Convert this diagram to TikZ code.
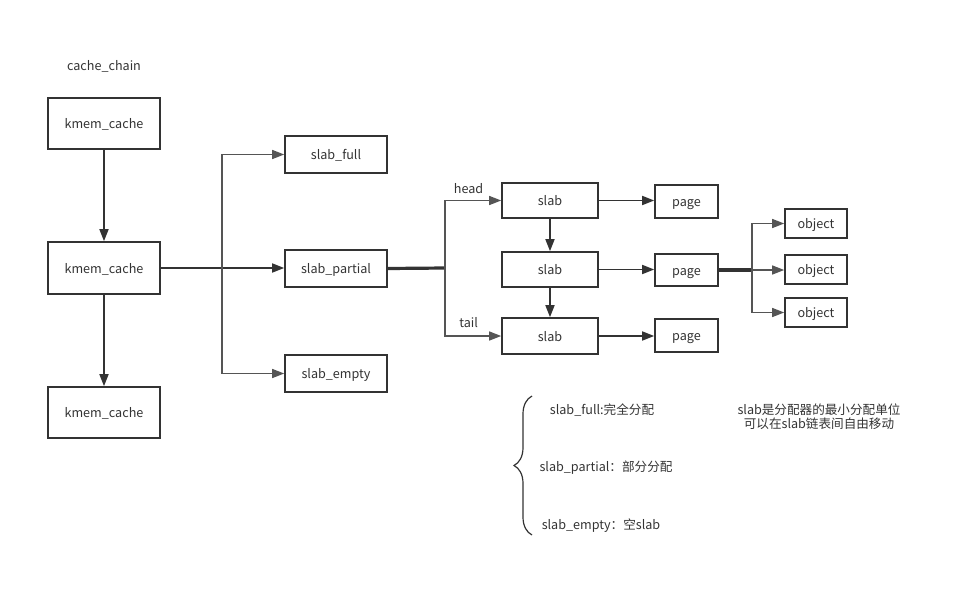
\documentclass[tikz,border=0pt]{standalone}
\usepackage{fontspec}
\setmainfont{Noto Sans CJK SC}
\usetikzlibrary{arrows.meta, calc, decorations.pathreplacing}
\definecolor{lineCol}{HTML}{333333}
\definecolor{textCol}{HTML}{333333}
\definecolor{forkCol}{HTML}{555555}

\begin{document}
\begin{tikzpicture}[x=1pt, y=-1pt, line cap=butt, line join=miter]

\def\lw{1.6pt}
\def\trunkW{3.2pt}

\tikzset{
  label/.style={text=textCol, font=\fontsize{12.6}{15}\selectfont, inner sep=0pt,
                text height=12pt, text depth=2pt},
  box/.style={draw=lineCol, line width=\lw, fill=white, text=textCol,
              font=\fontsize{12.6}{15}\selectfont, inner sep=0pt,
              text height=12pt, text depth=2pt},
  arr/.style={lineCol, line width=\lw, -{Triangle[length=12pt, width=9pt]}},
  fork/.style={forkCol, line width=1.3pt, -{Triangle[length=12pt, width=9pt]}},
  trunk/.style={lineCol, line width=\trunkW},
}

\useasboundingbox (0,0) rectangle (976,600);

% caches
\node[label] (chain) at (104,65) {cache\_chain};
\node[box, minimum width=112pt, minimum height=51pt] (k1) at (104,123.5) {kmem\_cache};
\node[box, minimum width=112pt, minimum height=52pt] (k2) at (104,268) {kmem\_cache};
\node[box, minimum width=112pt, minimum height=51pt] (k3) at (104,412.5) {kmem\_cache};

% lists
\node[box, minimum width=102pt, minimum height=37pt] (full) at (336,154.5) {slab\_full};
\node[box, minimum width=102pt, minimum height=37pt] (partial) at (336,268.5) {slab\_partial};
\node[box, minimum width=102pt, minimum height=37pt] (empty) at (336,373.5) {slab\_empty};

% slabs
\node[box, minimum width=96pt, minimum height=35pt] (s1) at (550,200.5) {slab};
\node[box, minimum width=96pt, minimum height=35pt] (s2) at (550,269.5) {slab};
\node[box, minimum width=96pt, minimum height=36pt] (s3) at (550,336) {slab};

% pages
\node[box, minimum width=63pt, minimum height=33pt] (p1) at (686.5,201.5) {page};
\node[box, minimum width=63pt, minimum height=32pt] (p2) at (686.5,270) {page};
\node[box, minimum width=63pt, minimum height=33pt] (p3) at (686.5,335.5) {page};

% objects
\node[box, minimum width=62pt, minimum height=29pt] (o1) at (816,223.5) {object};
\node[box, minimum width=62pt, minimum height=29pt] (o2) at (816,269.5) {object};
\node[box, minimum width=62pt, minimum height=29pt] (o3) at (816,312.5) {object};

\coordinate (forkA) at (222,268);
\coordinate (forkB) at (445,268);
\coordinate (forkC) at (752,270);

\draw[arr] (k1) -- (k2);
\draw[arr] (k2) -- (k3);

\draw[arr] (k2.east) -- (partial.west |- k2.east);
\draw[fork] (forkA) |- (full.west);
\draw[fork] (forkA) |- (empty.west);

\draw[trunk] (partial.east) -- (forkB);
\draw[fork] (forkB) |- node[label, pos=0.71, above=4pt] (head) {head} (s1.west);
\draw[fork] (forkB) |- node[label, pos=0.71, above=6pt] (tail) {tail} (s3.west);

\draw[arr] (s1) -- (s2);
\draw[arr] (s2) -- (s3);
\draw[arr] (s1) -- (p1.west |- s1);
\draw[arr] (s2) -- (p2.west |- s2);
\draw[arr] (s3) -- (p3.west |- s3);

\draw[trunk] (p2.east) -- (forkC);
\draw[fork] (forkC) |- (o1.west);
\draw[fork] (forkC) -- (o2.west |- forkC);
\draw[fork] (forkC) |- (o3.west);

% legend
\coordinate (braceB) at (532,535);
\coordinate (braceT) at (532,396);
\draw[lineCol, line width=1.2pt, decorate,
      decoration={brace, amplitude=18pt, aspect=0.5}] (braceB) -- (braceT);
\node[label] (kfull) at (602,409) {slab\_full:完全分配};
\node[label] (kpartial) at (606,466) {slab\_partial：部分分配};
\node[label] (kempty) at (601,524) {slab\_empty：空slab};

\node[label, align=center, text height=, text depth=] (note) at (819,417)
     {slab是分配器的最小分配单位\\[-1pt]可以在slab链表间自由移动};

\end{tikzpicture}
\end{document}
